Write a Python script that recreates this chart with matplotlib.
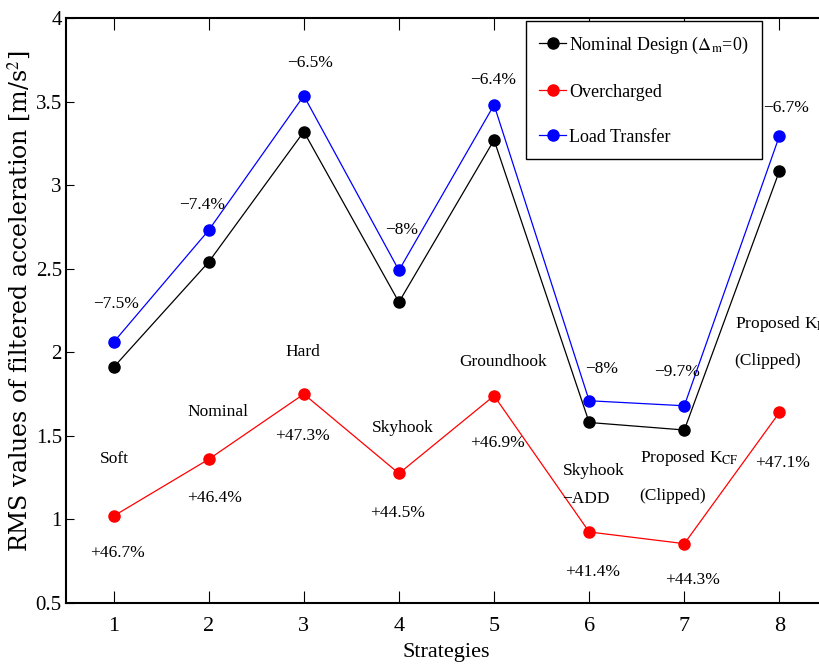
import numpy as np
import matplotlib
matplotlib.use('Agg')
import matplotlib.pyplot as plt

plt.rcParams['font.family'] = ['Liberation Serif', 'DejaVu Serif']
plt.rcParams['mathtext.fontset'] = 'stix'

strategies = [1, 2, 3, 4, 5, 6, 7, 8]
nominal = [1.91, 2.54, 3.32, 2.30, 3.27, 1.58, 1.535, 3.085]
overcharged = [1.02, 1.36, 1.75, 1.275, 1.74, 0.925, 0.855, 1.64]
load_transfer = [2.06, 2.73, 3.535, 2.49, 3.48, 1.71, 1.68, 3.295]

lt_pct = ['\u22127.5%', '\u22127.4%', '\u22126.5%', '\u22128%', '\u22126.4%',
          '\u22128%', '\u22129.7%', '\u22126.7%']
oc_pct = ['+46.7%', '+46.4%', '+47.3%', '+44.5%', '+46.9%',
          '+41.4%', '+44.3%', '+47.1%']

# (x, y) text anchors in data units
lt_pct_pos = [(1.03, 2.29), (1.93, 2.88), (3.07, 3.73), (4.03, 2.73),
              (4.99, 3.63), (6.13, 1.90), (6.92, 1.88), (8.07, 3.46)]
oc_pct_pos = [(1.04, 0.80), (2.06, 1.13), (2.99, 1.50), (3.99, 1.04),
              (5.04, 1.46), (6.04, 0.685), (7.09, 0.64), (8.03, 1.34)]

names_center = [('Soft', 1.01, 1.36), ('Nominal', 2.10, 1.64),
                ('Hard', 2.99, 2.00), ('Skyhook', 4.04, 1.55),
                ('Groundhook', 5.09, 1.94)]
names_left = [('Skyhook', 5.72, 1.29), ('\u2212ADD', 5.72, 1.12),
              (r'Proposed K$_{\mathrm{CF}}$', 6.53, 1.37),
              ('(Clipped)', 6.53, 1.14),
              (r'Proposed K$_{\mathrm{RH}}$', 7.53, 2.17),
              ('(Clipped)', 7.53, 1.95)]

fig = plt.figure(figsize=(8.19, 6.66), dpi=100)
ax = fig.add_axes([66 / 819, 63 / 666, 761 / 819, 585 / 666])

ax.plot(strategies, nominal, '-o', color='black', lw=0.9, ms=8,
        label=r'Nominal Design ($\Delta_{\mathrm{m}}$=0)')
ax.plot(strategies, overcharged, '-o', color='red', lw=0.9, ms=8,
        label='Overcharged')
ax.plot(strategies, load_transfer, '-o', color='blue', lw=0.9, ms=8,
        label='Load Transfer')

fs = 12.5
for txt, (x, y) in zip(lt_pct, lt_pct_pos):
    ax.text(x, y, txt, ha='center', va='center', fontsize=fs)
for txt, (x, y) in zip(oc_pct, oc_pct_pos):
    ax.text(x, y, txt, ha='center', va='center', fontsize=fs)
for txt, x, y in names_center:
    ax.text(x, y, txt, ha='center', va='center', fontsize=fs)
for txt, x, y in names_left:
    ax.text(x, y, txt, ha='left', va='center', fontsize=fs, clip_on=False)

ax.set_xlim(0.5, 8.5)
ax.set_ylim(0.5, 4)
ax.set_xticks(strategies)
ax.set_yticks(np.arange(0.5, 4.01, 0.5))
ax.set_yticklabels(['0.5', '1', '1.5', '2', '2.5', '3', '3.5', '4'])
ax.tick_params(axis='x', direction='in', top=True, length=8.5, width=0.8,
               labelsize=16, pad=10)
ax.tick_params(axis='y', direction='in', right=False, length=6, width=0.8,
               labelsize=15, pad=3)
for s in ax.spines.values():
    s.set_linewidth(1.5)

ax.set_xlabel('Strategies', fontsize=16)
ax.xaxis.set_label_coords(0.5, -0.068)
ax.set_ylabel(r'RMS values of filtered acceleration [m/s$^2$]',
              fontsize=17, family='DejaVu Serif')
ax.yaxis.set_label_coords(-0.043, 0.516)

leg = ax.legend(loc='upper left', bbox_to_anchor=(0.604, 0.995),
                borderaxespad=0, fontsize=13, fancybox=False,
                edgecolor='black', framealpha=1, handlelength=1.5,
                handletextpad=0.15, labelspacing=1.55, borderpad=0.75)
leg.get_frame().set_linewidth(1.0)

fig.savefig('out.png', dpi=100)
